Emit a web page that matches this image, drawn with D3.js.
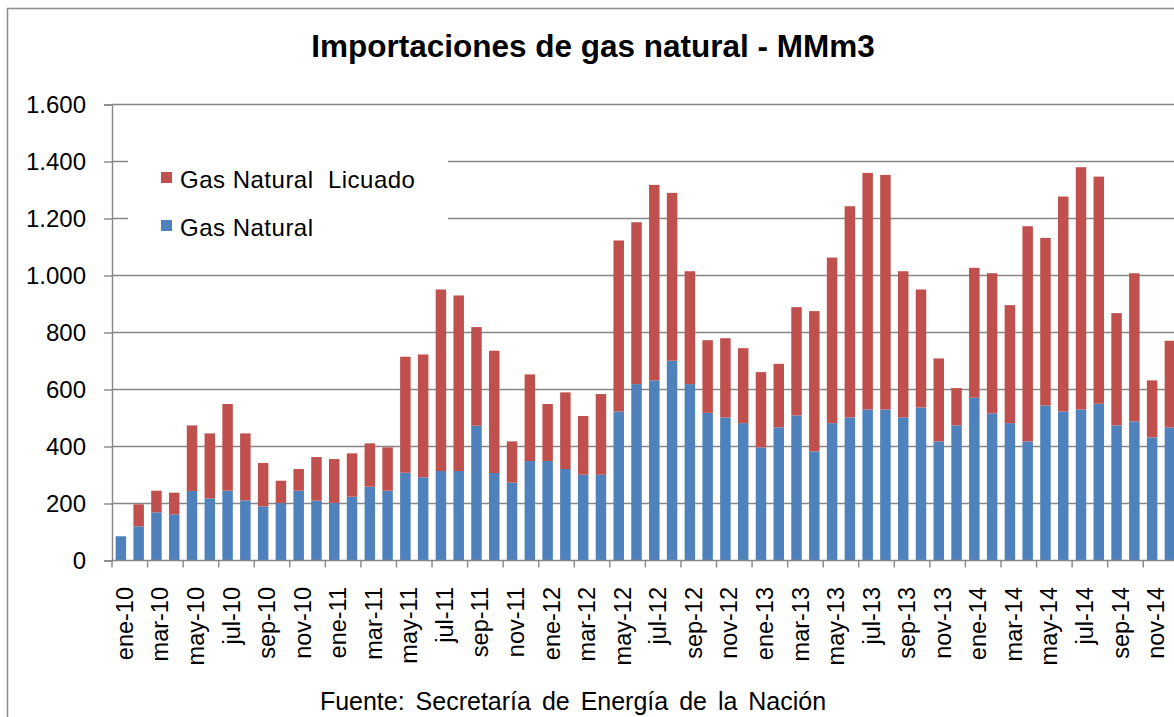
<!DOCTYPE html>
<html>
<head>
<meta charset="utf-8">
<script src="https://cdn.jsdelivr.net/npm/d3@7/dist/d3.min.js"></script>
<style>
  html, body { margin: 0; padding: 0; background: #fff; }
  svg { display: block; font-family: "Liberation Sans", Arial, sans-serif; }
</style>
</head>
<body>
<svg id="chart" width="1174" height="717"></svg>
<script>
// ---- Data ----
const months = [
  "ene-10","feb-10","mar-10","abr-10","may-10","jun-10","jul-10","ago-10","sep-10","oct-10","nov-10","dic-10",
  "ene-11","feb-11","mar-11","abr-11","may-11","jun-11","jul-11","ago-11","sep-11","oct-11","nov-11","dic-11",
  "ene-12","feb-12","mar-12","abr-12","may-12","jun-12","jul-12","ago-12","sep-12","oct-12","nov-12","dic-12",
  "ene-13","feb-13","mar-13","abr-13","may-13","jun-13","jul-13","ago-13","sep-13","oct-13","nov-13","dic-13",
  "ene-14","feb-14","mar-14","abr-14","may-14","jun-14","jul-14","ago-14","sep-14","oct-14","nov-14","dic-14"
];
const gasNatural = [
  85, 120, 169, 162, 244, 218, 245, 211, 190, 202, 245, 210,
  202, 224, 259, 245, 308, 292, 314, 314, 473, 307, 273, 349,
  349, 321, 301, 301, 523, 619, 632, 701, 619, 518, 502, 482,
  397, 467, 509, 383, 482, 502, 530, 530, 502, 537, 418, 474,
  571, 516, 482, 418, 544, 523, 530, 550, 474, 488, 432, 467
];
const gasNaturalLicuado = [
  0, 77, 76, 76, 230, 228, 304, 235, 152, 78, 76, 153,
  154, 152, 152, 152, 407, 431, 637, 616, 346, 429, 145, 304,
  200, 269, 206, 283, 600, 568, 686, 589, 396, 255, 278, 263,
  264, 223, 380, 492, 581, 741, 830, 823, 513, 414, 291, 131,
  456, 492, 414, 755, 588, 754, 850, 797, 394, 520, 200, 304
];
const yTicks = [0, 200, 400, 600, 800, 1000, 1200, 1400, 1600];
const seriesNames = ["Gas Natural  Licuado", "Gas Natural"];
const title = "Importaciones de gas natural - MMm3";
const source = "Fuente: Secretaría de Energía de la Nación";

// ---- Layout ----
const colors = { gn: "#4F81BD", gnl: "#C0504D" };
const gridColor = "#868686";
const svg = d3.select("#chart");

const x0 = 112, x1 = 1178.8, yBase = 560.5, yTop = 104.5;
const pad = 0.41;
const x = d3.scaleBand().domain(months).range([x0, x1]).paddingInner(pad).paddingOuter(pad / 2);
const y = d3.scaleLinear().domain([0, 1600]).range([yBase, yTop]);
const fmt = d3.formatLocale({ decimal: ",", thousands: ".", grouping: [3], currency: ["$", ""] }).format(",");

// outer border
svg.append("path")
  .attr("d", "M7.5,717 L7.5,8.5 L1174,8.5")
  .attr("fill", "none").attr("stroke", "#8c8c8c").attr("stroke-width", 1.5);

// title
svg.append("text")
  .attr("x", 593).attr("y", 57)
  .attr("text-anchor", "middle")
  .attr("font-size", 31.5).attr("font-weight", "bold").attr("fill", "#000")
  .text(title);

// gridlines
svg.append("g").selectAll("line")
  .data(yTicks.filter(d => d > 0))
  .join("line")
  .attr("x1", x0).attr("x2", 1180)
  .attr("y1", d => y(d)).attr("y2", d => y(d))
  .attr("stroke", gridColor).attr("stroke-width", 1.4);

// y axis
const yAxis = d3.axisLeft(y).tickValues(yTicks).tickSize(8).tickPadding(18).tickFormat(fmt);
const gy = svg.append("g").attr("transform", `translate(${x0},0)`).call(yAxis);
gy.select(".domain").attr("stroke", gridColor).attr("stroke-width", 1.4);
gy.selectAll(".tick line").attr("stroke", gridColor).attr("stroke-width", 1.4);
gy.selectAll(".tick text").attr("font-size", 24).attr("fill", "#000")
  .attr("font-family", "'Liberation Sans', Arial, sans-serif");

// bars
const stackData = months.map((m, i) => ({ m, gn: gasNatural[i], gnl: gasNaturalLicuado[i] }));
const gBars = svg.append("g");
gBars.selectAll("rect.gn").data(stackData).join("rect")
  .attr("class", "gn")
  .attr("x", d => x(d.m)).attr("width", x.bandwidth())
  .attr("y", d => y(d.gn)).attr("height", d => y(0) - y(d.gn))
  .attr("fill", colors.gn);
gBars.selectAll("rect.gnl").data(stackData.filter(d => d.gnl > 0)).join("rect")
  .attr("class", "gnl")
  .attr("x", d => x(d.m)).attr("width", x.bandwidth())
  .attr("y", d => y(d.gn + d.gnl)).attr("height", d => y(d.gn) - y(d.gn + d.gnl))
  .attr("fill", colors.gnl);

// x axis
const step = x.step();
const gx = svg.append("g");
gx.append("line")
  .attr("x1", x0).attr("x2", 1180).attr("y1", yBase).attr("y2", yBase)
  .attr("stroke", gridColor).attr("stroke-width", 1.4);
gx.selectAll("line.tk").data(months.filter((m, i) => i % 2 === 0))
  .join("line").attr("class", "tk")
  .attr("x1", d => x(d) - x.paddingInner() * step / 2)
  .attr("x2", d => x(d) - x.paddingInner() * step / 2)
  .attr("y1", yBase).attr("y2", yBase + 7)
  .attr("stroke", gridColor).attr("stroke-width", 1.4);
gx.selectAll("text").data(months.filter((m, i) => i % 2 === 0))
  .join("text")
  .attr("transform", d => `translate(${x(d) + x.bandwidth() / 2 + 12},587) rotate(-90)`)
  .attr("text-anchor", "end")
  .attr("font-size", 23.5).attr("fill", "#000")
  .text(d => d);

// legend (white box hiding grid)
svg.append("rect").attr("x", 128).attr("y", 140).attr("width", 320).attr("height", 115).attr("fill", "#fff");
const legend = [
  { name: seriesNames[0], color: colors.gnl, y: 172 },
  { name: seriesNames[1], color: colors.gn, y: 220 }
];
const lg = svg.append("g").selectAll("g").data(legend).join("g");
lg.append("rect").attr("x", 161).attr("y", d => d.y).attr("width", 11).attr("height", 11).attr("fill", d => d.color);
lg.append("text").attr("x", 180).attr("y", d => d.y + 15.5)
  .attr("font-size", 24).attr("letter-spacing", 0.5).attr("fill", "#000")
  .attr("xml:space", "preserve").style("white-space", "pre")
  .text(d => d.name);

// source
svg.append("text")
  .attr("x", 573).attr("y", 710)
  .attr("text-anchor", "middle")
  .attr("font-size", 25).attr("fill", "#000")
  .attr("word-spacing", 4)
  .text(source);
</script>
</body>
</html>
